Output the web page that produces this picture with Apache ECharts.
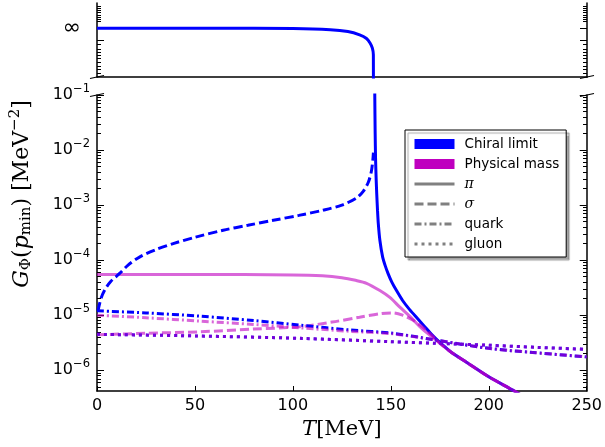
<!DOCTYPE html>
<html>
<head>
<meta charset="utf-8">
<script src="https://cdn.jsdelivr.net/npm/echarts@6/dist/echarts.min.js"></script>
<style>
  html, body { margin: 0; padding: 0; background: #fff; }
  #chart { width: 605px; height: 447px; }
</style>
</head>
<body>
<div id="chart"></div>
<script>
// ---- data ----
// upper (broken) panel: chiral pi is infinite below Tc; height is arbitrary, INF_LEVEL marks "∞"
const INF_LEVEL = 0.658;
const topT   = [0, 60, 100, 119, 128, 134, 137.5, 139.3, 140.5, 141.0, 141.05];
const topVal = [0.658, 0.658, 0.655, 0.64, 0.615, 0.57, 0.52, 0.46, 0.39, 0.3, -0.5];

// chiral limit, pi (solid blue), lower panel
const chPiT = [141.75, 141.8, 142.0, 142.2, 142.5, 142.8, 143.2, 143.6, 144.4, 145.8, 147.2, 148.6, 150.5, 152.9, 156, 159.7, 163.5, 167.3, 171, 175, 181, 188.6, 200, 212, 220];
const chPiV = [1, 0.1, 0.02, 7e-3, 3e-3, 1.6e-3, 8e-4, 4.6e-4, 2.3e-4, 1.15e-4, 7.8e-5, 5.7e-5, 4e-5, 2.8e-5, 1.85e-5, 1.25e-5, 8.8e-6, 6.2e-6, 4.4e-6, 3.2e-6, 2.1e-6, 1.4e-6, 7.6e-7, 4.4e-7, 3e-7];

// physical mass, pi
const phPiT = [0, 50, 100, 115, 125, 132, 137.6, 144.4, 149.5, 154.6, 159.7, 164.8, 170, 175, 181, 188.6, 200, 212, 220];
const phPiV = [5.5e-5, 5.5e-5, 5.4e-5, 5.2e-5, 4.8e-5, 4.3e-5, 3.8e-5, 2.8e-5, 2.1e-5, 1.4e-5, 9.5e-6, 6.2e-6, 4.3e-6, 3.1e-6, 2.1e-6, 1.4e-6, 7.6e-7, 4.4e-7, 3e-7];

// chiral limit, sigma (dashed blue)
const chSigT = [0.5, 2, 4, 7, 11.7, 16, 21.9, 30, 38.9, 50, 64.4, 77, 90, 103, 115.5, 125, 132.5, 136, 138.5, 140, 140.8, 141.1];
const chSigV = [1.2e-5, 2.0e-5, 2.9e-5, 4.1e-5, 5.8e-5, 8.2e-5, 1.15e-4, 1.55e-4, 2.0e-4, 2.6e-4, 3.5e-4, 4.3e-4, 5.3e-4, 6.5e-4, 8.1e-4, 1.0e-3, 1.35e-3, 1.8e-3, 2.6e-3, 4e-3, 6.5e-3, 9e-3];

// physical mass, sigma
const phSigT = [0, 25, 52.6, 80, 103.6, 120, 134, 145, 151, 156, 161.4, 165, 168.2, 172, 175, 181, 188.6, 200, 212, 220];
const phSigV = [4.4e-6, 4.7e-6, 5.0e-6, 5.6e-6, 6.2e-6, 7.5e-6, 9.2e-6, 1.07e-5, 1.1e-5, 1.0e-5, 8.1e-6, 6.6e-6, 5.3e-6, 4.0e-6, 3.1e-6, 2.1e-6, 1.4e-6, 7.6e-7, 4.4e-7, 3e-7];

// quark (dash-dot)
const qT   = [0, 25, 52.6, 80, 103.6, 129, 151, 171.6, 200, 222.5, 250];
const chQV = [1.2e-5, 1.1e-5, 9.6e-6, 8.0e-6, 6.6e-6, 5.4e-6, 4.7e-6, 3.6e-6, 2.5e-6, 2.1e-6, 1.75e-6];
const phQV = [1.0e-5, 9.0e-6, 7.8e-6, 6.8e-6, 5.9e-6, 5.1e-6, 4.6e-6, 3.6e-6, 2.5e-6, 2.1e-6, 1.75e-6];

// gluon (dotted)
const gT   = [0, 50, 103.6, 150, 172, 200, 225, 250];
const chGV = [4.5e-6, 4.2e-6, 3.8e-6, 3.3e-6, 3.1e-6, 2.85e-6, 2.6e-6, 2.4e-6];
const phGV = [4.5e-6, 4.2e-6, 3.8e-6, 3.3e-6, 3.1e-6, 2.85e-6, 2.6e-6, 2.4e-6];

// ticks
const xTicks = [0, 50, 100, 150, 200, 250];
const yMajor = [1e-6, 1e-5, 1e-4, 1e-3, 1e-2, 1e-1];
const topMajor = [INF_LEVEL, 0.5];
const topMinor = [0.96, 0.93, 0.9, 0.87, 0.84, 0.81, 0.78, 0.75, 0.44, 0.38, 0.34, 0.3, 0.25, 0.2, 0.15, 0.1, 0.05];
const Y_MIN = 4.2e-7, Y_MAX = 0.1;

let yMinor = [];
for (let d = -7; d <= -2; d++) {
  for (let k = 2; k <= 9; k++) {
    let v = k * Math.pow(10, d);
    if (v > Y_MIN && v < Y_MAX) yMinor.push(v);
  }
}

function zip(xs, ys) { return xs.map((x, i) => [x, ys[i]]); }

const BLUE = '#0000ff';
const MAG = 'rgba(191,0,191,0.6)';
const GREY = '#808080';
const DASH = [9, 4], DASHDOT = [7, 3, 2, 3], DOT = [3, 4];

let chart = echarts.init(document.getElementById('chart'));

let axLine = { show: true, lineStyle: { color: '#000', width: 1.5 } };
let supRich = {
  b: { fontFamily: 'DejaVu Sans', fontSize: 16, color: '#000' },
  s: { fontFamily: 'DejaVu Sans', fontSize: 11.5, color: '#000', padding: [0, 0, 12, 0] }
};

function yAx(grid, pos, opts) {
  return Object.assign({
    gridIndex: grid, position: pos, splitLine: { show: false },
    axisLine: axLine, axisLabel: { show: false }
  }, opts);
}

function lineSeries(name, data, color, type, z, smooth) {
  return {
    name: name, type: 'line', xAxisIndex: 2, yAxisIndex: 4,
    data: data, symbol: 'none', smooth: smooth == null ? 0.3 : smooth,
    lineStyle: { color: color, width: 3, type: type }, z: z, silent: true
  };
}

function legendSeries(name, color, type) {
  return {
    name: name, type: 'line', xAxisIndex: 2, yAxisIndex: 4, data: [], symbol: 'none',
    color: color, itemStyle: { color: color },
    lineStyle: { color: color, width: 3, type: type }
  };
}

// line-style legend entries: hide the marker that ECharts puts on line icons
function lineEntry(name, type, serif) {
  let e = {
    name: name,
    itemStyle: { color: 'rgba(0,0,0,0)', borderWidth: 0 },
    lineStyle: { color: GREY, width: 3, type: type }
  };
  if (serif) e.textStyle = { fontFamily: 'DejaVu Serif', fontStyle: 'italic', fontSize: 14 };
  return e;
}

chart.setOption({
  animation: false,
  backgroundColor: '#fff',
  grid: [
    { left: 97, right: 18, top: 3, height: 74 },
    { left: 97, right: 18, top: 3, height: 74 },
    { left: 97, right: 18, top: 95, bottom: 56 },
    { left: 97, right: 18, top: 95, bottom: 56 }
  ],
  xAxis: [
    { gridIndex: 0, type: 'value', min: 0, max: 250, position: 'top', axisLine: axLine,
      axisTick: { show: false }, axisLabel: { show: false }, splitLine: { show: false } },
    { gridIndex: 1, type: 'value', min: 0, max: 250, show: false },
    { gridIndex: 2, type: 'value', min: 0, max: 250, interval: 50, position: 'bottom', axisLine: axLine,
      axisTick: { inside: true, length: 5, lineStyle: { color: '#000', width: 1 } },
      axisLabel: { color: '#000', fontFamily: 'DejaVu Sans', fontSize: 16, margin: 7, customValues: xTicks },
      splitLine: { show: false },
      name: '{i|T}{r|[MeV]}', nameLocation: 'middle', nameGap: 24,
      nameTextStyle: {
        color: '#000',
        rich: {
          i: { fontFamily: 'DejaVu Serif', fontStyle: 'italic', fontSize: 21, color: '#000' },
          r: { fontFamily: 'DejaVu Serif', fontSize: 21, color: '#000' }
        }
      } },
    { gridIndex: 3, type: 'value', min: 0, max: 250, show: false }
  ],
  yAxis: [
    yAx(0, 'left', { type: 'value', min: 0, max: 1,
      axisTick: { inside: true, length: 7, customValues: topMajor, lineStyle: { color: '#000' } },
      axisLabel: { show: true, customValues: [INF_LEVEL], formatter: () => '∞', color: '#000',
        fontFamily: 'DejaVu Sans', fontSize: 22, margin: 16 } }),
    yAx(0, 'right', { type: 'value', min: 0, max: 1,
      axisTick: { inside: true, length: 7, customValues: topMajor, lineStyle: { color: '#000' } } }),
    yAx(1, 'left', { type: 'value', min: 0, max: 1, axisLine: { show: false },
      axisTick: { inside: true, length: 4, customValues: topMinor, lineStyle: { color: '#000' } } }),
    yAx(1, 'right', { type: 'value', min: 0, max: 1, axisLine: { show: false },
      axisTick: { inside: true, length: 4, customValues: topMinor, lineStyle: { color: '#000' } } }),
    yAx(2, 'left', { type: 'log', logBase: 10, min: Y_MIN, max: Y_MAX,
      axisTick: { inside: true, length: 7, customValues: yMajor, lineStyle: { color: '#000' } },
      axisLabel: { show: true, customValues: yMajor, margin: 7, rich: supRich,
        formatter: function (v) { return '{b|10}{s|−' + (-Math.round(Math.log10(v))) + '}'; } } }),
    yAx(2, 'right', { type: 'log', logBase: 10, min: Y_MIN, max: Y_MAX,
      axisTick: { inside: true, length: 7, customValues: yMajor, lineStyle: { color: '#000' } } }),
    yAx(3, 'left', { type: 'log', logBase: 10, min: Y_MIN, max: Y_MAX, axisLine: { show: false },
      axisTick: { inside: true, length: 4, customValues: yMinor, lineStyle: { color: '#000' } } }),
    yAx(3, 'right', { type: 'log', logBase: 10, min: Y_MIN, max: Y_MAX, axisLine: { show: false },
      axisTick: { inside: true, length: 4, customValues: yMinor, lineStyle: { color: '#000' } } })
  ],
  legend: {
    left: 405, top: 130, orient: 'vertical', selectedMode: false,
    itemWidth: 40, itemHeight: 10, itemGap: 6,
    padding: [7, 7, 6, 8],
    backgroundColor: '#fff', borderColor: '#000', borderWidth: 1,
    shadowColor: 'rgba(0,0,0,0.35)', shadowOffsetX: 3, shadowOffsetY: 3, shadowBlur: 1,
    textStyle: { fontFamily: 'DejaVu Sans', fontSize: 13.5, color: '#000', padding: [0, 0, 0, 5] },
    data: [
      { name: 'Chiral limit', icon: 'rect' },
      { name: 'Physical mass', icon: 'rect' },
      lineEntry('π', 'solid', true),
      lineEntry('σ', DASH, true),
      lineEntry('quark', DASHDOT, false),
      lineEntry('gluon', DOT, false)
    ]
  },
  graphic: [
    { type: 'text', x: 22, y: 194, rotation: Math.PI / 2,
      style: {
        text: '{i|G}{sub|Φ}{r|(}{i|p}{sub|min}{r|) [MeV}{sup|−2}{r|]}',
        align: 'center', verticalAlign: 'middle',
        rich: {
          i: { fontFamily: 'DejaVu Serif', fontStyle: 'italic', fontSize: 22, fill: '#000' },
          r: { fontFamily: 'DejaVu Serif', fontSize: 22, fill: '#000' },
          sub: { fontFamily: 'DejaVu Serif', fontSize: 15, fill: '#000', padding: [9, 0, 0, 0] },
          sup: { fontFamily: 'DejaVu Serif', fontSize: 15, fill: '#000', padding: [0, 0, 13, 0] }
        }
      } },
    // axis break marks
    { type: 'line', shape: { x1: 90, y1: 78.5, x2: 104, y2: 75.5 }, style: { stroke: '#000', lineWidth: 1.2 } },
    { type: 'line', shape: { x1: 90, y1: 96.5, x2: 104, y2: 93.5 }, style: { stroke: '#000', lineWidth: 1.2 } },
    { type: 'line', shape: { x1: 580, y1: 78.5, x2: 594, y2: 75.5 }, style: { stroke: '#000', lineWidth: 1.2 } },
    { type: 'line', shape: { x1: 580, y1: 96.5, x2: 594, y2: 93.5 }, style: { stroke: '#000', lineWidth: 1.2 } }
  ],
  series: [
    { name: 'chiral-pi-inf', type: 'line', xAxisIndex: 0, yAxisIndex: 0, data: zip(topT, topVal),
      symbol: 'none', smooth: 0.2, silent: true,
      lineStyle: { color: BLUE, width: 3 }, z: 3 },
    lineSeries('chiral-pi', zip(chPiT, chPiV), BLUE, 'solid', 3, 0.2),
    lineSeries('physical-pi', zip(phPiT, phPiV), MAG, 'solid', 4),
    lineSeries('chiral-sigma', zip(chSigT, chSigV), BLUE, DASH, 5),
    lineSeries('physical-sigma', zip(phSigT, phSigV), MAG, DASH, 6),
    lineSeries('chiral-quark', zip(qT, chQV), BLUE, DASHDOT, 7),
    lineSeries('physical-quark', zip(qT, phQV), MAG, DASHDOT, 8),
    lineSeries('chiral-gluon', zip(gT, chGV), BLUE, DOT, 9),
    lineSeries('physical-gluon', zip(gT, phGV), MAG, DOT, 10),
    legendSeries('Chiral limit', BLUE, 'solid'),
    legendSeries('Physical mass', '#bf00bf', 'solid'),
    legendSeries('π', GREY, 'solid'),
    legendSeries('σ', GREY, DASH),
    legendSeries('quark', GREY, DASHDOT),
    legendSeries('gluon', GREY, DOT)
  ]
});
</script>
</body>
</html>
